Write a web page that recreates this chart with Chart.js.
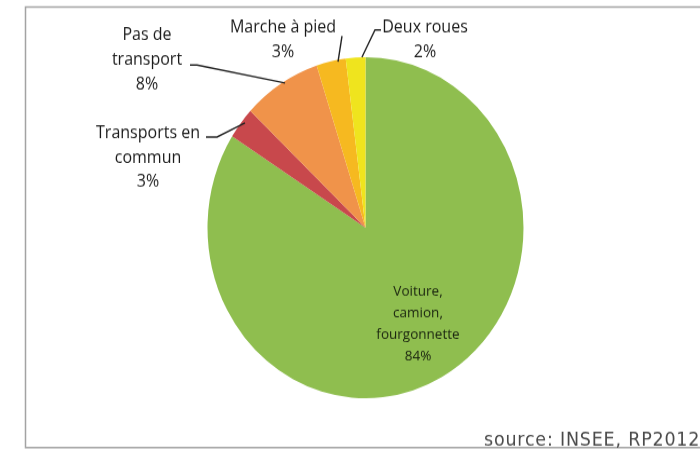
<!DOCTYPE html>
<html>
<head>
<meta charset="utf-8">
<script src="https://cdn.jsdelivr.net/npm/chart.js@4.4.0/dist/chart.umd.min.js"></script>
<style>
  html, body { margin: 0; padding: 0; background: #fff; }
  body { width: 700px; height: 450px; overflow: hidden; }
  #wrap { width: 700px; height: 417px; transform: scaleY(1.0791); transform-origin: 0 0; }
</style>
</head>
<body>
<div id="wrap"><canvas id="pie" width="700" height="417"></canvas></div>
<script>
// mode de transport pour aller travailler (INSEE, RP2012)
var categories = [
  ['Voiture,', 'camion,', 'fourgonnette'],
  ['Transports en', 'commun'],
  ['Pas de', 'transport'],
  ['Marche à pied'],
  ['Deux roues']
];
var values = [84, 3, 8, 3, 2];
var colors = ['#8fbe4f', '#c8484c', '#f0934a', '#f6b920', '#efe41e'];
var source = 'source: INSEE, RP2012';

var S = 1.0791; // vertical stretch of the original picture

// label placement (screen px): text center x, first line y, line step, leader
var labelPos = [
  { x: 418, y: 292, step: 21.5, inside: true },
  { x: 148, y: 133, step: 24.5, from: [[206, 137], [217, 137]], t: 0.6, f: 0.98 },
  { x: 147, y: 35, step: 25, from: [[190, 65], [197, 65]], t: 0.55, f: 0.99 },
  { x: 283, y: 27, step: 25, from: [[342, 36]], t: 0.73, f: 0.99 },
  { x: 425, y: 27, step: 25, from: [[381, 30], [375, 30]], t: 0.82, f: 1.0 }
];

var labelsPlugin = {
  id: 'labels',
  afterDatasetsDraw: function (chart) {
    var ctx = chart.ctx;
    var arcs = chart.getDatasetMeta(0).data;
    ctx.save();
    // frame
    ctx.strokeStyle = '#a3a3a3';
    ctx.lineWidth = 1.5;
    ctx.beginPath();
    ctx.moveTo(720, 7 / S);
    ctx.lineTo(25.5, 7 / S);
    ctx.lineTo(25.5, 447.5 / S);
    ctx.lineTo(720, 447.5 / S);
    ctx.stroke();

    ctx.textAlign = 'center';
    ctx.textBaseline = 'middle';
    labelPos.forEach(function (p, i) {
      var lines = categories[i].concat([values[i] + '%']);
      ctx.font = p.inside ? '13.5px "Open Sans"' : '16px "Open Sans"';
      ctx.fillStyle = p.inside ? '#1a240f' : '#1a1a1a';
      lines.forEach(function (ln, k) {
        ctx.fillText(ln, p.x, (p.y + k * p.step) / S);
      });
      if (p.from) {
        var a = arcs[i];
        var ang = a.startAngle + p.t * (a.endAngle - a.startAngle);
        var ex = a.x + Math.cos(ang) * a.outerRadius * p.f;
        var ey = a.y + Math.sin(ang) * a.outerRadius * p.f;
        ctx.strokeStyle = '#222';
        ctx.lineWidth = 1.4;
        ctx.beginPath();
        p.from.forEach(function (q, k) {
          if (k === 0) ctx.moveTo(q[0], q[1] / S); else ctx.lineTo(q[0], q[1] / S);
        });
        ctx.lineTo(ex, ey);
        ctx.stroke();
      }
    });

    ctx.font = '17.5px "DejaVu Sans"';
    ctx.letterSpacing = '0.8px';
    ctx.fillStyle = '#4a4a4a';
    ctx.textAlign = 'left';
    ctx.textBaseline = 'alphabetic';
    ctx.fillText(source, 484, 446 / S);
    ctx.restore();
  }
};

new Chart(document.getElementById('pie'), {
  type: 'pie',
  data: {
    labels: categories.map(function (c) { return c.join(' '); }),
    datasets: [{
      data: values,
      backgroundColor: colors,
      borderWidth: 0,
      hoverOffset: 0
    }]
  },
  options: {
    responsive: false,
    animation: false,
    layout: { padding: { left: 207, right: 176, top: 53, bottom: 48 } },
    plugins: { legend: { display: false }, tooltip: { enabled: false } }
  },
  plugins: [labelsPlugin]
});
</script>
</body>
</html>
